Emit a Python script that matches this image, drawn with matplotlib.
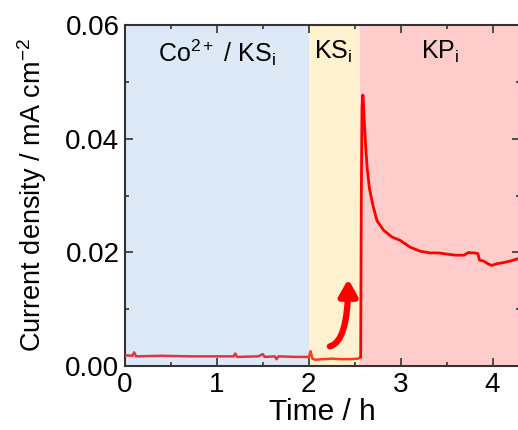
import numpy as np
import matplotlib.pyplot as plt
from matplotlib.patches import FancyArrowPatch
from matplotlib.ticker import MultipleLocator

plt.rcParams['font.family'] = ['Liberation Sans', 'DejaVu Sans']
plt.rcParams['mathtext.fontset'] = 'custom'
plt.rcParams['mathtext.rm'] = 'Liberation Sans'
plt.rcParams['mathtext.it'] = 'Liberation Sans'

# --- DATA (time in h, current density in mA cm^-2) ---
# Co2+ / KSi step
t_co = [0.00, 0.08, 0.10, 0.12, 0.40, 0.70, 0.95, 1.18, 1.20, 1.22, 1.45, 1.50,
        1.52, 1.63, 1.65, 1.67, 1.85, 1.99]
j_co = [0.0019, 0.0018, 0.0024, 0.0017, 0.0018, 0.0017, 0.0017, 0.0017, 0.0022,
        0.0016, 0.0017, 0.0021, 0.0016, 0.0017, 0.0012, 0.0017, 0.0016, 0.0016]

# KSi step
t_ks = [2.00, 2.02, 2.04, 2.07, 2.15, 2.25, 2.35, 2.45, 2.54, 2.565]
j_ks = [0.0015, 0.0026, 0.0013, 0.0011, 0.0012, 0.0013, 0.0012, 0.0012, 0.0013, 0.0016]

# KPi step
t_kp = [2.565, 2.572, 2.580, 2.589, 2.598, 2.608, 2.620, 2.636, 2.661, 2.698,
        2.742, 2.814, 2.905, 2.996, 3.105, 3.214, 3.32, 3.41, 3.50, 3.60, 3.69,
        3.74, 3.76, 3.80, 3.84, 3.86, 3.90, 3.95, 3.99, 4.05, 4.12, 4.20, 4.30]
j_kp = [0.0016, 0.0300, 0.0455, 0.0477, 0.0455, 0.0420, 0.0385, 0.0348, 0.0312,
        0.0283, 0.0256, 0.0239, 0.0227, 0.0221, 0.0209, 0.0202, 0.0199, 0.0199,
        0.0197, 0.0195, 0.0195, 0.0200, 0.0199, 0.0199, 0.0198, 0.0186, 0.0185,
        0.0180, 0.0177, 0.0180, 0.0182, 0.0185, 0.0190]

regions = [(0.0, 2.0), (2.0, 2.56), (2.56, 4.4)]
region_colors = ['#dde9f6', '#fff2d0', '#ffcccc']
region_labels = [r'Co$^{2+}$ / KS$_{\rm i}$', r'KS$_{\rm i}$', r'KP$_{\rm i}$']
label_x = [1.0, 2.27, 3.43]

fig = plt.figure(figsize=(5.18, 4.30), dpi=100)
ax = fig.add_axes([0.2413, 0.1488, 0.7627, 0.7930])

for (x0, x1), c in zip(regions, region_colors):
    ax.axvspan(x0, x1, color=c, lw=0, zorder=0)
for x, s in zip(label_x, region_labels):
    ax.text(x, 0.0552, s, ha='center', va='center', fontsize=18)

ax.plot(t_co, j_co, color='#e5333d', lw=1.8, zorder=3)
ax.plot(t_ks, j_ks, color='#ff3b1a', lw=1.8, zorder=3)
ax.plot(t_kp, j_kp, color='#ff0000', lw=2.0, zorder=3)

# curved arrow marking the current rise
arrow = FancyArrowPatch((2.20, 0.0034), (2.43, 0.0158),
                        connectionstyle='angle3,angleA=0,angleB=90',
                        arrowstyle='-|>,head_width=0.45,head_length=0.8',
                        mutation_scale=12, color='#ff0000', lw=4.5, zorder=4)
ax.add_patch(arrow)

ax.set_xlim(0, 4.3)
ax.set_ylim(0, 0.06)
ax.xaxis.set_major_locator(MultipleLocator(1))
ax.xaxis.set_minor_locator(MultipleLocator(0.5))
ax.yaxis.set_major_locator(MultipleLocator(0.02))
ax.yaxis.set_minor_locator(MultipleLocator(0.01))
ax.yaxis.set_major_formatter(plt.FormatStrFormatter('%.2f'))
ax.tick_params(which='both', direction='in', top=True, right=True,
               color='#333333', labelsize=20, width=1.2)
ax.tick_params(which='major', length=6, pad=4)
ax.tick_params(which='minor', length=3)
for sp in ax.spines.values():
    sp.set_linewidth(1.5)
    sp.set_color('#333333')

ax.set_xlabel('Time / h', fontsize=21.5, labelpad=0)
ax.set_ylabel(r'Current density / mA cm$^{-2}$', fontsize=19.5, labelpad=12)

fig.savefig('out.png', dpi=100)
